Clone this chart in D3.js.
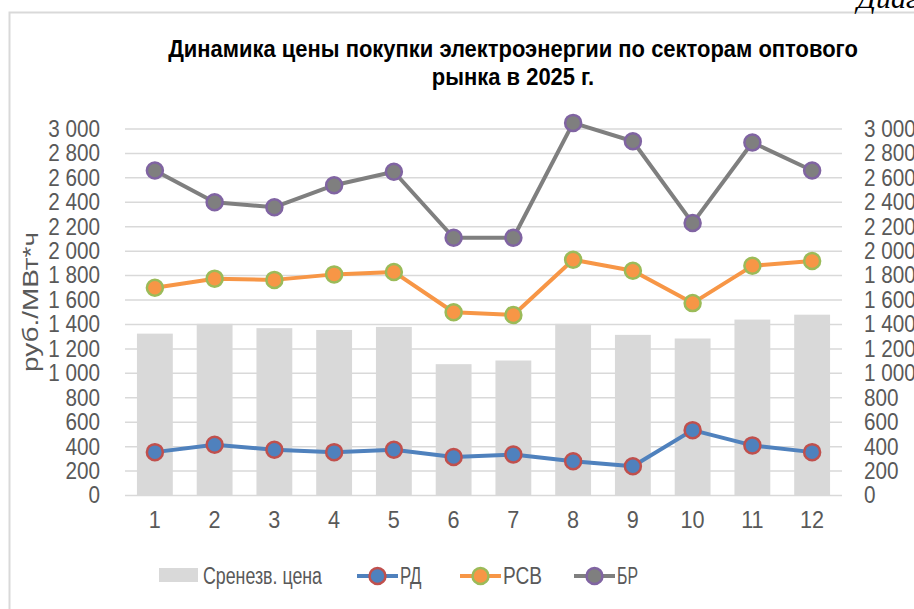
<!DOCTYPE html>
<html><head><meta charset="utf-8">
<script src="https://cdn.jsdelivr.net/npm/d3@7"></script>
<style>
html,body{margin:0;padding:0;background:#fff;overflow:hidden}
text{font-family:"Liberation Sans Narrow","Arial Narrow","Liberation Sans",Arial,sans-serif}
</style></head>
<body><svg id="c" width="914" height="609"></svg>
<script>
const categories = ["1","2","3","4","5","6","7","8","9","10","11","12"];
const avgPrice = [1325,1405,1370,1355,1380,1075,1105,1405,1315,1285,1440,1480];
const rd  = [355,415,375,355,375,315,335,280,240,535,410,355];
const rsv = [1700,1775,1765,1810,1830,1500,1478,1930,1840,1575,1880,1920];
const br  = [2660,2400,2360,2540,2650,2110,2110,3050,2900,2230,2890,2660];
const yTicks = [0,200,400,600,800,1000,1200,1400,1600,1800,2000,2200,2400,2600,2800,3000];
const titleLines = ["Динамика цены покупки электроэнергии по секторам оптового","рынка в 2025 г."];
const yLabel = "руб./МВт*ч";
const legendLabels = ["Сренезв. цена","РД","РСВ","БР"];

const svg = d3.select("#c");
const grid = "#d9d9d9", txt = "#595959";

// frame
svg.append("rect").attr("x",9.5).attr("y",12.5).attr("width",1000).attr("height",700)
  .attr("fill","none").attr("stroke",grid).attr("stroke-width",2);
svg.append("text").attr("x",857).attr("y",8).attr("font-size",30)
  .attr("font-style","italic").style("font-family","'Liberation Serif','Times New Roman',serif")
  .attr("fill","#000").text("Диаграмма");

const x = d3.scaleBand().domain(categories).range([125,842]).paddingInner(0.4).paddingOuter(0.2);
const y = d3.scaleLinear().domain([0,3000]).range([495.5,129]);
const fmt = v => d3.format(",")(v).replace(/,/g,"\u00a0");

// gridlines
svg.append("g").selectAll("line").data(yTicks).join("line")
  .attr("x1",125).attr("x2",842).attr("y1",d=>y(d)).attr("y2",d=>y(d))
  .attr("stroke",grid).attr("stroke-width",1.5);

// axes
const SX = 0.9;
const left = svg.append("g").attr("transform","translate(125,0)")
  .call(d3.axisLeft(y).tickValues(yTicks).tickFormat(fmt).tickSize(0).tickPadding(25));
const right = svg.append("g").attr("transform","translate(842,0)")
  .call(d3.axisRight(y).tickValues(yTicks).tickFormat(fmt).tickSize(0).tickPadding(22));
const bottom = svg.append("g").attr("transform","translate(0,495.5)")
  .call(d3.axisBottom(x).tickSize(0).tickPadding(15));
[left,right].forEach(g=>{
  g.select(".domain").remove();
  g.selectAll("text").attr("font-size",23).attr("fill",txt).style("font-family",null)
    .attr("x",function(){return +d3.select(this).attr("x")/SX;})
    .attr("transform",`scale(${SX},1)`);
});
bottom.select(".domain").remove();
bottom.selectAll("text").attr("font-size",24).attr("fill",txt).style("font-family",null)
  .attr("transform",`scale(${SX},1)`);

// bars
svg.append("g").selectAll("rect").data(avgPrice).join("rect")
  .attr("x",(d,i)=>x(categories[i])).attr("width",x.bandwidth())
  .attr("y",d=>y(d)).attr("height",d=>y(0)-y(d)).attr("fill","#d9d9d9");

const cx = i => x(categories[i]) + x.bandwidth()/2;
const series = [
  {data:rd, line:"#4f81bd", fill:"#4f81bd", stroke:"#c0504d"},
  {data:rsv, line:"#f79646", fill:"#f79646", stroke:"#9bbb59"},
  {data:br, line:"#7f7f7f", fill:"#7f7f7f", stroke:"#8064a2"}
];
const line = d3.line().x((d,i)=>cx(i)).y(d=>y(d));
series.forEach(s=>{
  svg.append("path").datum(s.data).attr("d",line).attr("fill","none")
    .attr("stroke",s.line).attr("stroke-width",4).attr("stroke-linejoin","round");
  svg.append("g").selectAll("circle").data(s.data).join("circle")
    .attr("cx",(d,i)=>cx(i)).attr("cy",d=>y(d)).attr("r",8)
    .attr("fill",s.fill).attr("stroke",s.stroke).attr("stroke-width",2.5);
});

// title
const TS = 0.915;
svg.append("g").selectAll("text").data(titleLines).join("text")
  .attr("transform",(d,i)=>`translate(513,${57+i*28}) scale(${TS},1)`)
  .attr("text-anchor","middle")
  .attr("font-size",24).attr("font-weight","bold").attr("fill","#000").text(d=>d);

// y label
svg.append("text").attr("transform","translate(38,302) rotate(-90)")
  .attr("text-anchor","middle").attr("font-size",22).attr("fill",txt)
  .attr("textLength",140).attr("lengthAdjust","spacingAndGlyphs").text(yLabel);

// legend
const ly = 576;
const lg = svg.append("g");
const lw = [119,21.5,39,21];
lg.append("rect").attr("x",159).attr("y",568).attr("width",39).attr("height",14).attr("fill","#d9d9d9");
lg.append("text").attr("x",203).attr("y",ly).attr("dy","0.35em").attr("font-size",23).attr("fill",txt)
  .attr("textLength",lw[0]).attr("lengthAdjust","spacingAndGlyphs").text(legendLabels[0]);
const lx = [357,460,574];
series.forEach((s,i)=>{
  lg.append("line").attr("x1",lx[i]).attr("x2",lx[i]+41).attr("y1",ly).attr("y2",ly)
    .attr("stroke",s.line).attr("stroke-width",4);
  lg.append("circle").attr("cx",lx[i]+20.5).attr("cy",ly).attr("r",8)
    .attr("fill",s.fill).attr("stroke",s.stroke).attr("stroke-width",2.5);
  lg.append("text").attr("x",lx[i]+43).attr("y",ly).attr("dy","0.35em").attr("font-size",23)
    .attr("fill",txt).attr("textLength",lw[i+1]).attr("lengthAdjust","spacingAndGlyphs").text(legendLabels[i+1]);
});
</script></body></html>
